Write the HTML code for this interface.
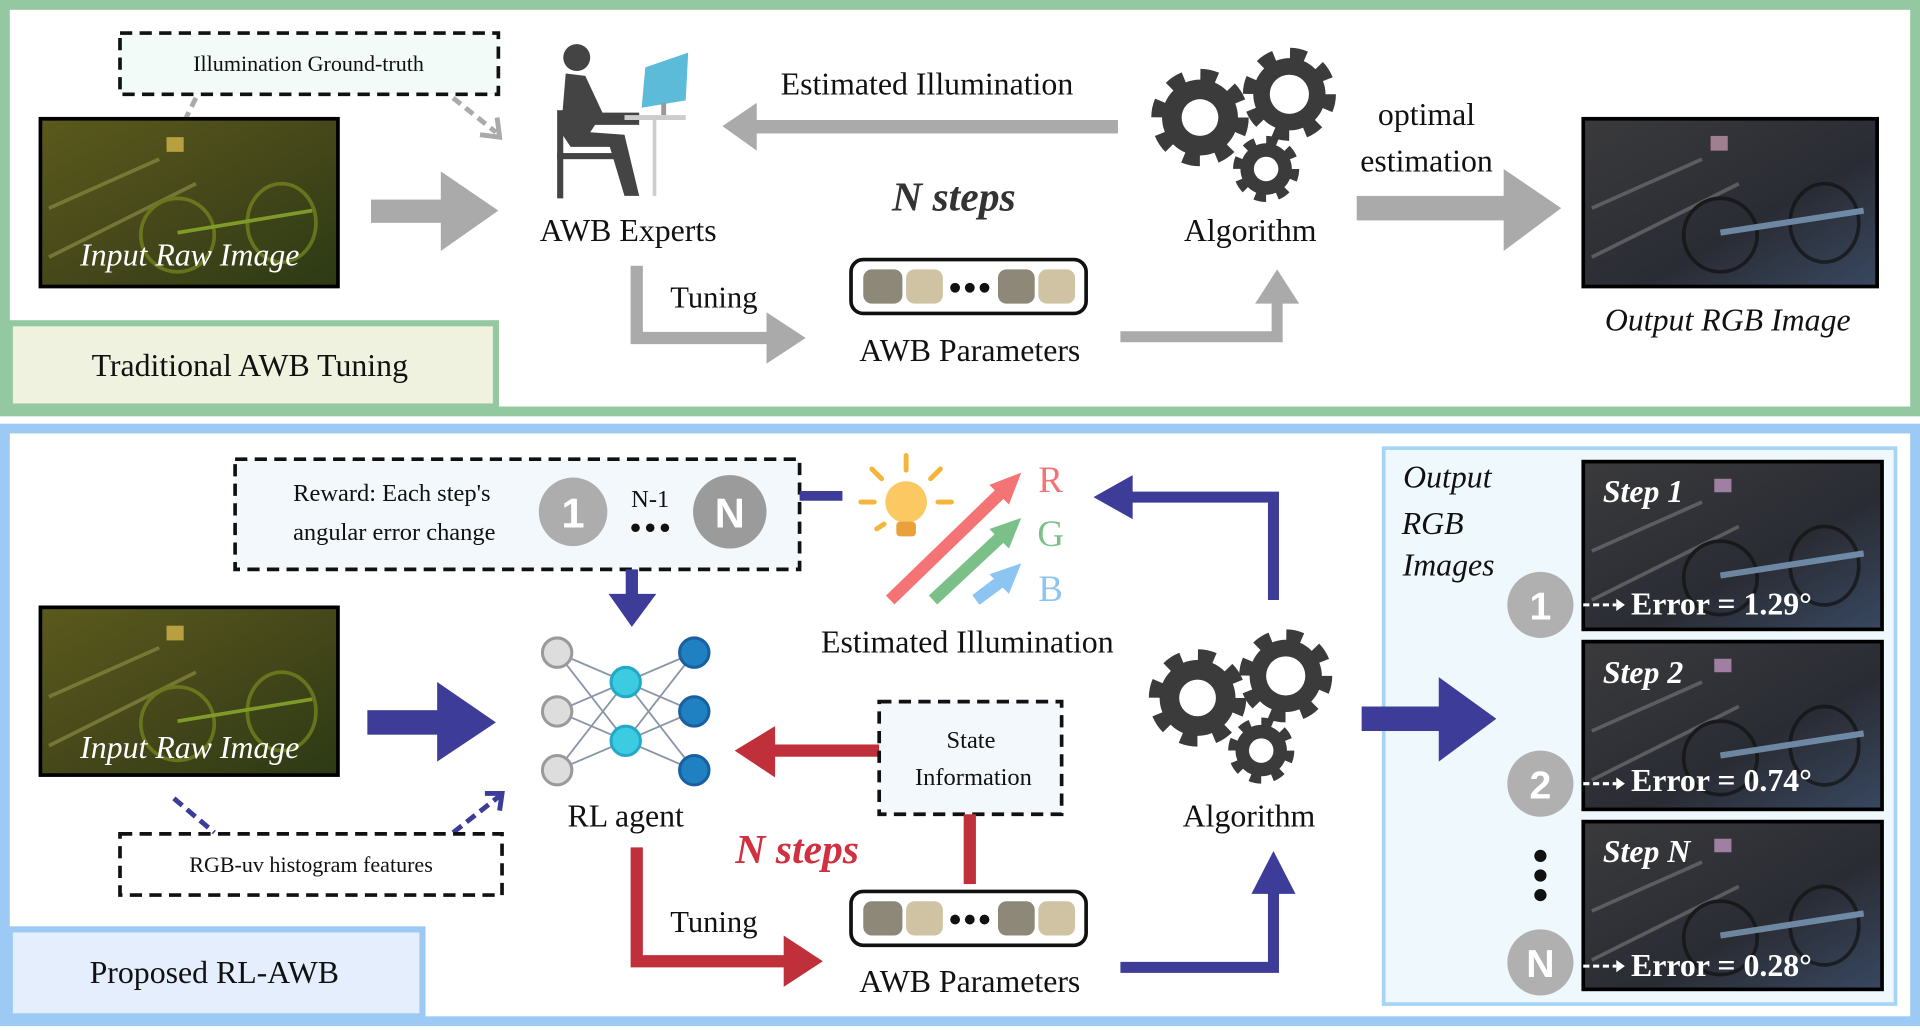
<!DOCTYPE html>
<html><head><meta charset="utf-8"><style>
html,body{margin:0;padding:0;background:#fff;}
svg{display:block;}
text{font-family:"Liberation Serif",serif;}
</style></head><body>
<svg width="1920" height="1031" viewBox="0 0 1568 842" preserveAspectRatio="none" xmlns="http://www.w3.org/2000/svg">
<defs>
<linearGradient id="raw" x1="0" y1="0" x2="1" y2="1"><stop offset="0" stop-color="#5a5a1c"/><stop offset="0.5" stop-color="#46481a"/><stop offset="1" stop-color="#2c3a14"/></linearGradient>
<linearGradient id="out" x1="0" y1="0" x2="1" y2="1"><stop offset="0" stop-color="#3a3a3c"/><stop offset="0.6" stop-color="#2a2c34"/><stop offset="1" stop-color="#384860"/></linearGradient>
<g id="gearL"><circle r="31" fill="#3b3b3b"/><circle r="34.8" fill="none" stroke="#3b3b3b" stroke-width="10" stroke-dasharray="13.67 13.67"/><circle r="15" fill="#fff"/></g>
<g id="gearM"><circle r="29.5" fill="#3b3b3b"/><circle r="33" fill="none" stroke="#3b3b3b" stroke-width="10" stroke-dasharray="12.98 12.98"/><circle r="16" fill="#fff"/></g>
<g id="gearS"><circle r="21" fill="#3b3b3b"/><circle r="23.5" fill="none" stroke="#3b3b3b" stroke-width="7" stroke-dasharray="9.22 9.22"/><circle r="10" fill="#fff"/></g>
<g id="bikeR" fill="none" stroke="#7a8a20" stroke-width="3" opacity="0.7">
<line x1="0" y1="60" x2="90" y2="20" stroke="#8a8a40"/><line x1="0" y1="100" x2="120" y2="40" stroke="#8a8a40"/>
<ellipse cx="105" cy="82" rx="30" ry="30"/><ellipse cx="190" cy="72" rx="28" ry="32"/>
<line x1="105" y1="80" x2="215" y2="62" stroke="#9ac030"/></g>
<g id="bikeO" fill="none" stroke="#7080a0" stroke-width="3" opacity="0.7">
<line x1="0" y1="60" x2="90" y2="20" stroke="#707070"/><line x1="0" y1="100" x2="120" y2="40" stroke="#707070"/>
<ellipse cx="105" cy="82" rx="30" ry="30" stroke="#111"/><ellipse cx="190" cy="72" rx="28" ry="32" stroke="#111"/>
<line x1="105" y1="80" x2="222" y2="62" stroke="#8aaed0" stroke-width="5"/></g>
</defs>
<rect width="1568" height="842" fill="#fff"/>
<rect x="4" y="4" width="1560" height="332" fill="#fff" stroke="#94c8a0" stroke-width="8"/>
<rect x="8" y="264" width="397" height="68" fill="#eef2de" stroke="#94c8a0" stroke-width="5"/>
<text x="204" y="307" font-size="26" text-anchor="middle" fill="#111">Traditional AWB Tuning</text>

<rect x="98" y="27" width="309" height="50" fill="#f3fbf8" stroke="#111" stroke-width="3" stroke-dasharray="10 6"/>
<text x="252" y="58" font-size="18" text-anchor="middle" fill="#111">Illumination Ground-truth</text>
<line x1="160" y1="80" x2="152" y2="96" stroke="#aaa" stroke-width="4" stroke-dasharray="8 5"/>
<line x1="370" y1="80" x2="405" y2="108" stroke="#aaa" stroke-width="4" stroke-dasharray="8 5"/>
<polyline points="392,110 408,112 406,96" fill="none" stroke="#aaa" stroke-width="4"/>

<rect x="33" y="97" width="243" height="137" fill="url(#raw)" stroke="#000" stroke-width="3"/>
<use href="#bikeR" x="40" y="110"/>
<rect x="136" y="112" width="14" height="12" fill="#b8a040"/>
<text x="155" y="217" font-size="26" font-style="italic" text-anchor="middle" fill="#fff">Input Raw Image</text>

<rect x="303" y="163" width="62" height="19" fill="#aaa"/>
<polygon points="360,140 407,172 360,205" fill="#aaa"/>

<circle cx="471" cy="47" r="11" fill="#444"/>
<path d="M462 60 L478 62 L492 92 L522 92 L522 102 L486 102 L482 108 L510 110 L522 160 L510 160 L498 120 L466 120 L458 108 Z" fill="#444"/>
<rect x="455" y="90" width="5" height="72" fill="#444"/>
<rect x="455" y="125" width="48" height="5" fill="#444"/>
<polygon points="527,55 562,43 560,82 524,88" fill="#5cbbd8"/>
<rect x="540" y="84" width="4" height="10" fill="#999"/>
<rect x="510" y="94" width="50" height="4" fill="#ccc"/>
<rect x="533" y="98" width="3" height="62" fill="#ccc"/>
<text x="513" y="197" font-size="26" text-anchor="middle" fill="#111">AWB Experts</text>

<rect x="610" y="98" width="303" height="11" fill="#aaa"/>
<polygon points="590,103 618,84 618,123" fill="#aaa"/>
<text x="757" y="77" font-size="26" text-anchor="middle" fill="#111">Estimated Illumination</text>
<text x="779" y="172" font-size="34" font-style="italic" font-weight="bold" text-anchor="middle" fill="#333">N steps</text>

<use href="#gearL" x="980" y="96"/>
<use href="#gearM" x="1053" y="77"/>
<use href="#gearS" x="1034" y="138"/>
<text x="1021" y="197" font-size="26" text-anchor="middle" fill="#111">Algorithm</text>
<text x="1165" y="102" font-size="26" text-anchor="middle" fill="#111">optimal</text>
<text x="1165" y="140" font-size="26" text-anchor="middle" fill="#111">estimation</text>
<rect x="1108" y="160" width="125" height="20" fill="#aaa"/>
<polygon points="1228,138 1275,170 1228,205" fill="#aaa"/>

<rect x="1293" y="97" width="240" height="137" fill="url(#out)" stroke="#000" stroke-width="3"/>
<use href="#bikeO" x="1300" y="110"/>
<rect x="1397" y="111" width="14" height="12" fill="#a08090"/>
<text x="1411" y="270" font-size="26" font-style="italic" text-anchor="middle" fill="#111">Output RGB Image</text>

<polyline points="520,217 520,276 640,276" fill="none" stroke="#aaa" stroke-width="10"/>
<polygon points="626,255 658,276 626,297" fill="#aaa"/>
<text x="583" y="251" font-size="25" text-anchor="middle" fill="#111">Tuning</text>

<rect x="695" y="212" width="192" height="44" rx="10" fill="#fff" stroke="#111" stroke-width="3"/>
<rect x="705" y="220" width="32" height="28" rx="7" fill="#8e8878"/>
<rect x="740" y="220" width="30" height="28" rx="7" fill="#cfc3a3"/>
<circle cx="780" cy="235" r="4" fill="#111"/><circle cx="792" cy="235" r="4" fill="#111"/><circle cx="804" cy="235" r="4" fill="#111"/>
<rect x="815" y="220" width="30" height="28" rx="7" fill="#8e8878"/>
<rect x="848" y="220" width="30" height="28" rx="7" fill="#cfc3a3"/>
<text x="792" y="295" font-size="26" text-anchor="middle" fill="#111">AWB Parameters</text>
<polyline points="915,275 1043,275 1043,240" fill="none" stroke="#aaa" stroke-width="9"/>
<polygon points="1025,248 1043,220 1061,248" fill="#aaa"/>

<rect x="4" y="350" width="1560" height="484" fill="#fff" stroke="#9ccaf4" stroke-width="8"/>
<rect x="8" y="759" width="337" height="71" fill="#e4eefd" stroke="#9ccaf4" stroke-width="5"/>
<text x="175" y="803" font-size="26" text-anchor="middle" fill="#111">Proposed RL-AWB</text>

<rect x="1130" y="366" width="418" height="454" fill="#eef8fd" stroke="#a6d4f4" stroke-width="3"/>

<rect x="192" y="375" width="461" height="90" fill="#f3f8fd" stroke="#111" stroke-width="3" stroke-dasharray="10 6"/>
<text x="320" y="409" font-size="20" text-anchor="middle" fill="#111">Reward: Each step's</text>
<text x="322" y="441" font-size="20" text-anchor="middle" fill="#111">angular error change</text>
<circle cx="468" cy="418" r="28" fill="#adadad"/>
<text x="468" y="431" font-size="34" font-weight="bold" text-anchor="middle" fill="#fff" style="font-family:'Liberation Sans',sans-serif">1</text>
<text x="531" y="414" font-size="20" text-anchor="middle" fill="#111">N-1</text>
<circle cx="519" cy="431" r="3.5" fill="#111"/><circle cx="531" cy="431" r="3.5" fill="#111"/><circle cx="543" cy="431" r="3.5" fill="#111"/>
<circle cx="596" cy="418" r="30" fill="#9b9b9b"/>
<text x="596" y="431" font-size="34" font-weight="bold" text-anchor="middle" fill="#fff" style="font-family:'Liberation Sans',sans-serif">N</text>
<line x1="653" y1="405" x2="688" y2="405" stroke="#3d3d99" stroke-width="8"/>
<rect x="511" y="465" width="10" height="22" fill="#3d3d99"/>
<polygon points="497,485 536,485 516,512" fill="#3d3d99"/>

<circle cx="740" cy="410" r="17" fill="#fbc861"/>
<rect x="732" y="426" width="16" height="12" rx="3" fill="#e9a23b"/>
<g stroke="#f5b43a" stroke-width="4" stroke-linecap="round">
<line x1="740" y1="372" x2="740" y2="384"/><line x1="712" y1="383" x2="720" y2="391"/><line x1="768" y1="383" x2="760" y2="391"/>
<line x1="703" y1="410" x2="714" y2="410"/><line x1="766" y1="410" x2="777" y2="410"/><line x1="716" y1="432" x2="722" y2="428"/></g>
<line x1="727" y1="490" x2="820" y2="400" stroke="#f47374" stroke-width="10"/>
<polygon points="834,386 808,396 824,412" fill="#f47374"/>
<line x1="762" y1="490" x2="821" y2="435" stroke="#7cc089" stroke-width="10"/>
<polygon points="834,423 808,432 824,448" fill="#7cc089"/>
<line x1="797" y1="490" x2="821" y2="472" stroke="#8cc4f2" stroke-width="10"/>
<polygon points="834,460 808,469 824,485" fill="#8cc4f2"/>
<text x="858" y="402" font-size="30" text-anchor="middle" fill="#f47374">R</text>
<text x="858" y="446" font-size="30" text-anchor="middle" fill="#7cc089">G</text>
<text x="858" y="491" font-size="30" text-anchor="middle" fill="#8cc4f2">B</text>
<polyline points="1040,490 1040,406 915,406" fill="none" stroke="#3d3d99" stroke-width="9"/>
<polygon points="893,406 925,388 925,424" fill="#3d3d99"/>
<text x="790" y="533" font-size="26" text-anchor="middle" fill="#111">Estimated Illumination</text>

<rect x="33" y="496" width="243" height="137" fill="url(#raw)" stroke="#000" stroke-width="3"/>
<use href="#bikeR" x="40" y="509"/>
<rect x="136" y="511" width="14" height="12" fill="#b8a040"/>
<text x="155" y="619" font-size="26" font-style="italic" text-anchor="middle" fill="#fff">Input Raw Image</text>
<rect x="300" y="580" width="62" height="20" fill="#3d3d99"/>
<polygon points="357,557 405,590 357,622" fill="#3d3d99"/>

<line x1="142" y1="652" x2="175" y2="680" stroke="#3d3d99" stroke-width="4" stroke-dasharray="9 5"/>
<line x1="370" y1="680" x2="408" y2="650" stroke="#3d3d99" stroke-width="4" stroke-dasharray="9 5"/>
<polyline points="396,648 410,648 408,662" fill="none" stroke="#3d3d99" stroke-width="4"/>
<rect x="98" y="681" width="312" height="50" fill="#fff" stroke="#111" stroke-width="3" stroke-dasharray="10 6"/>
<text x="254" y="712" font-size="18" text-anchor="middle" fill="#111">RGB-uv histogram features</text>

<g stroke="#8a96a8" stroke-width="1.5">
<line x1="455" y1="533" x2="511" y2="557"/><line x1="455" y1="533" x2="511" y2="605"/>
<line x1="455" y1="581" x2="511" y2="557"/><line x1="455" y1="581" x2="511" y2="605"/>
<line x1="455" y1="629" x2="511" y2="557"/><line x1="455" y1="629" x2="511" y2="605"/>
<line x1="511" y1="557" x2="567" y2="533"/><line x1="511" y1="557" x2="567" y2="581"/><line x1="511" y1="557" x2="567" y2="629"/>
<line x1="511" y1="605" x2="567" y2="533"/><line x1="511" y1="605" x2="567" y2="581"/><line x1="511" y1="605" x2="567" y2="629"/>
</g>
<g fill="#ddd" stroke="#9a9a9a" stroke-width="2.5"><circle cx="455" cy="533" r="12"/><circle cx="455" cy="581" r="12"/><circle cx="455" cy="629" r="12"/></g>
<g fill="#3ccbe0" stroke="#24a8c8" stroke-width="2.5"><circle cx="511" cy="557" r="12"/><circle cx="511" cy="605" r="12"/></g>
<g fill="#1f80c2" stroke="#1860a0" stroke-width="2.5"><circle cx="567" cy="533" r="12"/><circle cx="567" cy="581" r="12"/><circle cx="567" cy="629" r="12"/></g>
<text x="511" y="675" font-size="26" text-anchor="middle" fill="#111">RL agent</text>

<rect x="625" y="608" width="93" height="10" fill="#c0303a"/>
<polygon points="600,613 633,593 633,635" fill="#c0303a"/>
<rect x="718" y="573" width="149" height="92" fill="#f3f8fd" stroke="#111" stroke-width="3" stroke-dasharray="10 6"/>
<text x="793" y="611" font-size="20" text-anchor="middle" fill="#111">State</text>
<text x="795" y="641" font-size="20" text-anchor="middle" fill="#111">Information</text>
<rect x="787" y="665" width="10" height="57" fill="#c0303a"/>
<text x="651" y="705" font-size="34" font-style="italic" font-weight="bold" text-anchor="middle" fill="#d03040">N steps</text>
<polyline points="520,692 520,785 650,785" fill="none" stroke="#c0303a" stroke-width="10"/>
<polygon points="640,764 672,785 640,806" fill="#c0303a"/>
<text x="583" y="761" font-size="25" text-anchor="middle" fill="#111">Tuning</text>

<rect x="695" y="728" width="192" height="44" rx="10" fill="#fff" stroke="#111" stroke-width="3"/>
<rect x="705" y="736" width="32" height="28" rx="7" fill="#8e8878"/>
<rect x="740" y="736" width="30" height="28" rx="7" fill="#cfc3a3"/>
<circle cx="780" cy="751" r="4" fill="#111"/><circle cx="792" cy="751" r="4" fill="#111"/><circle cx="804" cy="751" r="4" fill="#111"/>
<rect x="815" y="736" width="30" height="28" rx="7" fill="#8e8878"/>
<rect x="848" y="736" width="30" height="28" rx="7" fill="#cfc3a3"/>
<text x="792" y="810" font-size="26" text-anchor="middle" fill="#111">AWB Parameters</text>
<polyline points="915,790 1040,790 1040,720" fill="none" stroke="#3d3d99" stroke-width="9"/>
<polygon points="1022,730 1040,695 1058,730" fill="#3d3d99"/>

<use href="#gearL" x="978" y="570"/>
<use href="#gearM" x="1050" y="552"/>
<use href="#gearS" x="1030" y="613"/>
<text x="1020" y="675" font-size="26" text-anchor="middle" fill="#111">Algorithm</text>
<rect x="1112" y="577" width="68" height="20" fill="#3d3d99"/>
<polygon points="1175,553 1222,587 1175,622" fill="#3d3d99"/>

<text x="1182" y="398" font-size="26" font-style="italic" text-anchor="middle" fill="#111">Output</text>
<text x="1170" y="436" font-size="26" font-style="italic" text-anchor="middle" fill="#111">RGB</text>
<text x="1183" y="470" font-size="26" font-style="italic" text-anchor="middle" fill="#111">Images</text>

<rect x="1293" y="377" width="244" height="137" fill="url(#out)" stroke="#000" stroke-width="3"/>
<rect x="1293" y="524" width="244" height="137" fill="url(#out)" stroke="#000" stroke-width="3"/>
<rect x="1293" y="671" width="244" height="137" fill="url(#out)" stroke="#000" stroke-width="3"/>
<use href="#bikeO" x="1300" y="390"/>
<use href="#bikeO" x="1300" y="537"/>
<use href="#bikeO" x="1300" y="684"/>
<rect x="1400" y="391" width="14" height="11" fill="#a080a0"/>
<rect x="1400" y="538" width="14" height="11" fill="#a080a0"/>
<rect x="1400" y="685" width="14" height="11" fill="#a080a0"/>
<g font-size="26" font-style="italic" font-weight="bold" fill="#fff">
<text x="1309" y="410">Step 1</text><text x="1309" y="558">Step 2</text><text x="1309" y="704">Step N</text></g>
<g font-size="26" font-weight="bold" fill="#fff">
<text x="1332" y="502">Error = 1.29°</text><text x="1332" y="646">Error = 0.74°</text><text x="1332" y="797">Error = 0.28°</text></g>
<g stroke="#fff" stroke-width="2.5" stroke-dasharray="5 3">
<line x1="1293" y1="494" x2="1320" y2="494"/><line x1="1293" y1="640" x2="1320" y2="640"/><line x1="1293" y1="789" x2="1320" y2="789"/></g>
<g fill="#fff"><polygon points="1320,489 1327,494 1320,499"/><polygon points="1320,635 1327,640 1320,645"/><polygon points="1320,784 1327,789 1320,794"/></g>
<g fill="#b0b0b0"><circle cx="1258" cy="494" r="27"/><circle cx="1258" cy="640" r="27"/><circle cx="1258" cy="786" r="27"/></g>
<g font-size="32" font-weight="bold" fill="#fff" text-anchor="middle">
<text x="1258" y="506" style="font-family:'Liberation Sans',sans-serif">1</text>
<text x="1258" y="652" style="font-family:'Liberation Sans',sans-serif">2</text>
<text x="1258" y="798" style="font-family:'Liberation Sans',sans-serif">N</text></g>
<g fill="#111"><circle cx="1258" cy="699" r="5"/><circle cx="1258" cy="715" r="5"/><circle cx="1258" cy="731" r="5"/></g>
</svg>
</body></html>
